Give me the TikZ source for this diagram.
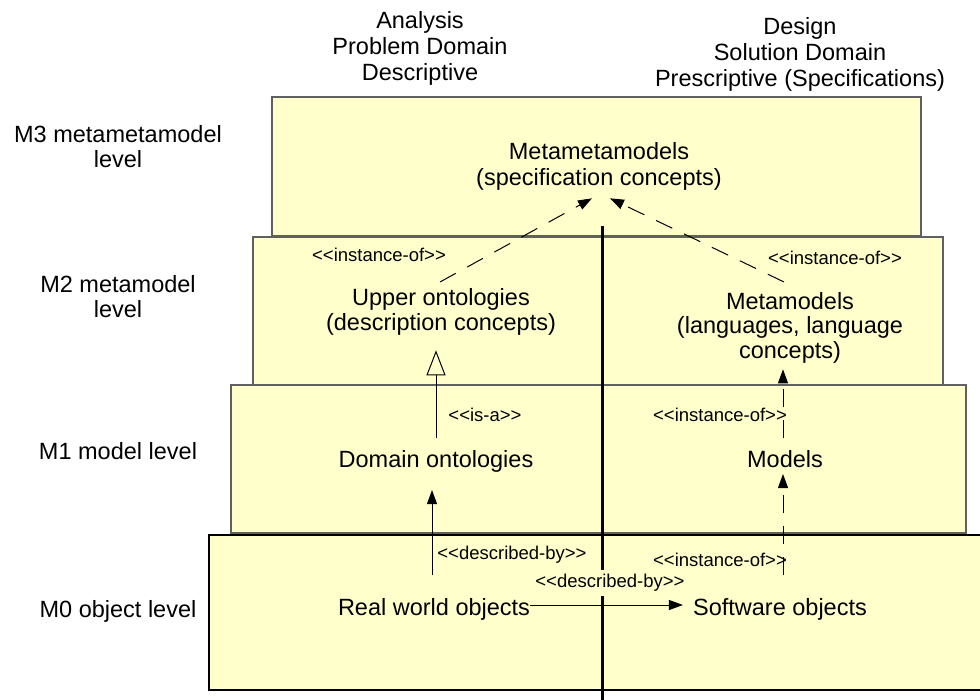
\documentclass[tikz,border=0pt]{standalone}
\usepackage{fontspec}
\setmainfont{Liberation Sans}
\usetikzlibrary{arrows.meta}
\definecolor{boxfill}{HTML}{FFFFCC}
\definecolor{boxline}{HTML}{606060}
\newcommand{\stereo}[1]{{<}{<}#1{>}{>}}
\begin{document}
\begin{tikzpicture}[x=1pt,y=-1pt,
  lvl/.style={draw=boxline,fill=boxfill,line width=1.1pt},
  lvlzero/.style={draw=black,fill=boxfill,line width=1.1pt},
  maintxt/.style={font=\fontsize{23.5}{25}\selectfont,align=center,inner sep=0pt},
  headtxt/.style={font=\fontsize{23.5}{26}\selectfont,align=center,inner sep=0pt},
  lvltxt/.style={font=\fontsize{23.5}{25}\selectfont,align=center,inner sep=0pt},
  lab/.style={font=\fontsize{18.5}{20}\selectfont,inner sep=1pt},
  conn/.style={line width=1pt},
  filltip/.style={-{Triangle[length=14pt,width=10pt]}},
  opentip/.style={-{Triangle[open,length=25pt,width=19pt,fill=boxfill]}},
  dashline/.style={dash pattern=on 18pt off 13pt},
  divider/.style={line width=3pt}
]
\useasboundingbox (0,0) rectangle (980,700);
\fill[white] (0,0) rectangle (980,700);

% level boxes
\path[lvl] (272,97) rectangle (921,236);
\path[lvl] (253,237) rectangle (943,385);
\path[lvl] (231,385) rectangle (966,533);
\path[lvlzero] (209,535) rectangle (982,690);

% divider
\coordinate (vtop) at (602.5,226);
\coordinate (vbot) at (602.5,700);
\draw[divider] (vtop) -- (vbot);

% headers
\node[headtxt,anchor=north] (hleft) at (420,11) {Analysis\\Problem Domain\\Descriptive};
\node[headtxt,anchor=north] (hright) at (800,17) {Design\\Solution Domain\\Prescriptive (Specifications)};

% level labels
\node[lvltxt,anchor=north] (l3) at (118,125) {M3 metametamodel\\level};
\node[lvltxt,anchor=north] (l2) at (118,275) {M2 metamodel\\level};
\node[lvltxt,anchor=base] (l1) at (118,460) {M1 model level};
\node[lvltxt,anchor=base] (l0) at (118,617) {M0 object level};

% main nodes
\node[maintxt,anchor=north,font=\fontsize{23.5}{26}\selectfont] (mmm) at (599,142) {Metametamodels\\(specification concepts)};
\node[maintxt,anchor=north] (upper) at (441,288) {Upper ontologies\\(description concepts)};
\node[maintxt,anchor=north,font=\fontsize{23.5}{24.5}\selectfont] (meta) at (790,292) {Metamodels\\(languages, language\\concepts)};
\node[maintxt,anchor=base] (dom) at (436,467) {Domain ontologies};
\node[maintxt,anchor=base] (models) at (785,467) {Models};
\node[maintxt,anchor=base] (real) at (434,615) {Real world objects};
\node[maintxt,anchor=base] (soft) at (780,615) {Software objects};

% connectors
\draw[conn,filltip] ([shift={(-2,-40)}]real.base) -- ([shift={(-4,23)}]dom.base);
\draw[conn,opentip] ([shift={(0,-29)}]dom.base) -- ([shift={(-5,15)}]upper.south);
\draw[conn,dashline,filltip] ([shift={(-2,-29)}]models.base) -- ([shift={(-7,6)}]meta.south);
\draw[conn,dashline,filltip] ([shift={(3,-40)}]soft.base) -- ([shift={(-2,7)}]models.base);
\draw[conn,dashline,filltip] ([shift={(-1,-6)}]upper.north) -- ([shift={(-7,8)}]mmm.south);
\draw[conn,dashline,filltip] ([shift={(-6,-10)}]meta.north) -- ([shift={(11,8)}]mmm.south);
\draw[conn,filltip] ([shift={(0,-10)}]real.base east) -- ([shift={(-10,-10)}]soft.base west);

% connector labels
\node[lab] (i1) at (379,255) {\stereo{instance-of}};
\node[lab] (i2) at (835,258) {\stereo{instance-of}};
\node[lab] (isa) at (485,415) {\stereo{is-a}};
\node[lab] (i3) at (720,415) {\stereo{instance-of}};
\node[lab] (d1) at (512,555) {\stereo{described-by}};
\node[lab] (i4) at (720,560) {\stereo{instance-of}};
\node[lab,fill=boxfill,inner ysep=4pt] (d2) at (610,583) {\stereo{described-by}};
\end{tikzpicture}
\end{document}
